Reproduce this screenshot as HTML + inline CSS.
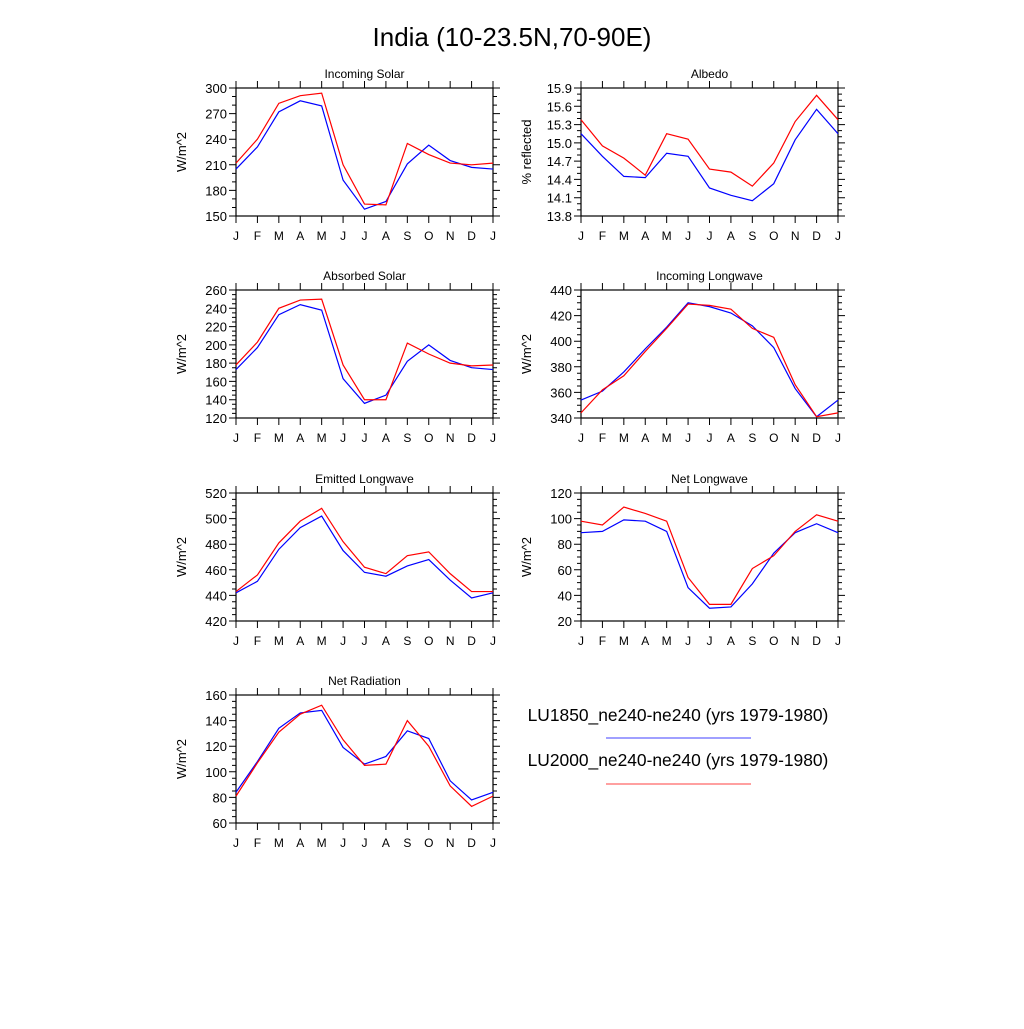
<!DOCTYPE html>
<html><head><meta charset="utf-8"><style>
body{margin:0;background:#fff;width:1024px;height:1024px;overflow:hidden}
svg{font-family:"Liberation Sans",sans-serif}
</style></head><body>
<svg id="c" width="1024" height="1024">
<text x="512" y="46" font-size="26" text-anchor="middle">India (10-23.5N,70-90E)</text>
<g>
<text x="678" y="721" font-size="17.4" text-anchor="middle">LU1850_ne240-ne240 (yrs 1979-1980)</text>
<line x1="606" y1="738" x2="751" y2="738" stroke="#00f" stroke-width="0.8"/>
<text x="678" y="766" font-size="17.4" text-anchor="middle">LU2000_ne240-ne240 (yrs 1979-1980)</text>
<line x1="606" y1="784" x2="751" y2="784" stroke="#f00" stroke-width="0.8"/>
</g>
</svg>
<script>
const months=["J","F","M","A","M","J","J","A","S","O","N","D","J"];
const titles=["Incoming Solar","Albedo","Absorbed Solar","Incoming Longwave","Emitted Longwave","Net Longwave","Net Radiation"];
const yTitles=["W/m^2","% reflected","W/m^2","W/m^2","W/m^2","W/m^2","W/m^2"];
const yMin=[150,13.8,120,340,420,20,60];
const yMax=[300,15.9,260,440,520,120,160];
const yStep=[30,0.3,20,20,20,20,20];
const yMinor=[3,3,4,4,4,4,4];
const yDec=[0,1,0,0,0,0,0];
const blue0=[205,231,272,285,279,192,158,167,211,233,215,207,205];
const red0=[212,240,282,291,294,210,164,163,235,222,212,210,212];
const blue1=[15.15,14.78,14.45,14.43,14.83,14.78,14.26,14.14,14.05,14.33,15.05,15.55,15.15];
const red1=[15.38,14.95,14.75,14.47,15.15,15.06,14.57,14.52,14.29,14.67,15.35,15.78,15.38];
const blue2=[173,197,233,244,238,163,136,145,182,200,183,175,173];
const red2=[178,203,240,249,250,178,140,140,202,190,180,177,178];
const blue3=[354,361,376,394,411,430,427,422,412,395,363,341,354];
const red3=[344,362,373,392,410,429,428,425,410,403,366,341,344];
const blue4=[442,451,476,493,502,475,458,455,463,468,452,438,442];
const red4=[443,456,481,498,508,482,462,457,471,474,457,443,443];
const blue5=[89,90,99,98,90,46,30,31,49,73,89,96,89];
const red5=[98,95,109,104,98,54,33,33,61,71,90,103,98];
const blue6=[84,108,134,146,148,119,106,112,132,126,93,78,84];
const red6=[81,107,131,145,152,125,105,106,140,120,89,73,81];
const blues=[blue0,blue1,blue2,blue3,blue4,blue5,blue6];
const reds=[red0,red1,red2,red3,red4,red5,red6];

const svg=document.getElementById('c');
const NS="http://www.w3.org/2000/svg";
function mk(t,a,p){const e=document.createElementNS(NS,t);for(const k in a)e.setAttribute(k,a[k]);(p||svg).appendChild(e);return e;}
const tops=[88,88,290,290,493,493,695];
const lefts=[236,581,236,581,236,581,236];
const W=257,H=128;
for(let i=0;i<7;i++){
  const L=lefts[i],T=tops[i],B=T+H,R=L+W;
  const g=mk('g',{});
  
  
  const xs=k=>L+k*W/12;
  const ys=v=>B-(v-yMin[i])/(yMax[i]-yMin[i])*H;
  const t=mk('text',{x:L+W/2,y:T-10,'font-size':12,'text-anchor':'middle'},g);t.textContent=titles[i];
  
  const yt=mk('text',{x:0,y:0,'font-size':13,'text-anchor':'middle',transform:`translate(${L-50},${T+H/2}) rotate(-90)`},g);yt.textContent=yTitles[i];
  
  let d='';
  for(let k=0;k<13;k++){const x=xs(k);d+=`M${x} ${B}v7M${x} ${T}v-7`;
    const lb=mk('text',{x:x,y:B+24,'font-size':12,'text-anchor':'middle'},g);lb.textContent=months[k];
    }
  const n=Math.round((yMax[i]-yMin[i])/yStep[i]);
  for(let k=0;k<=n;k++){const v=yMin[i]+k*yStep[i];const y=ys(v);d+=`M${L} ${y}h-7M${R} ${y}h7`;
    const lb=mk('text',{x:L-9,y:y+5,'font-size':13,'text-anchor':'end'},g);lb.textContent=v.toFixed(yDec[i]);
    
    if(k<n)for(let m=1;m<yMinor[i];m++){const yy=ys(v+m*yStep[i]/yMinor[i]);d+=`M${L} ${yy}h-4M${R} ${yy}h4`;}}
  const tk=mk('path',{d:d,stroke:'#000','stroke-width':1,fill:'none'},g);
  
  const bx=mk('rect',{x:L,y:T,width:W,height:H,fill:'none',stroke:'#000','stroke-width':1.2},g);
  
  [[blues[i],'#00f','line-lu1850'],[reds[i],'#f00','line-lu2000']].forEach(([arr,c,nm])=>{
    const p=mk('polyline',{points:arr.map((v,k)=>xs(k)+','+ys(v)).join(' '),fill:'none',stroke:c,'stroke-width':1.2},g);
    });
}
</script>
</body></html>
